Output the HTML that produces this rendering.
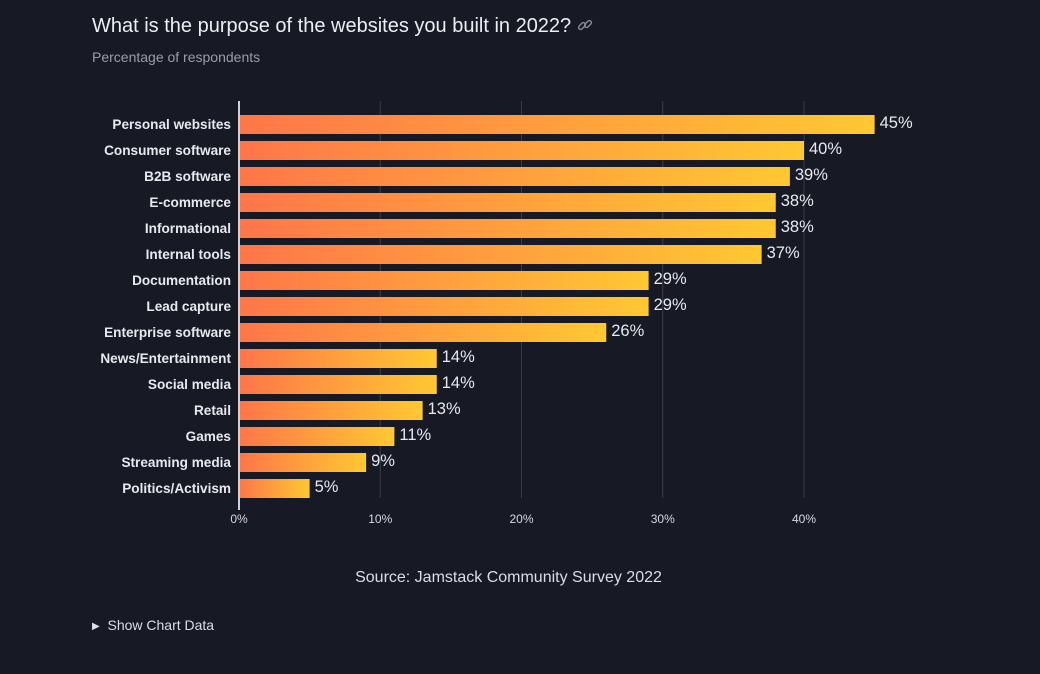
<!DOCTYPE html>
<html><head><meta charset="utf-8"><style>
body{margin:0;background:#171925;width:1040px;height:674px;overflow:hidden;font-family:"Liberation Sans",sans-serif;color:#e8e9ef}
.t{position:absolute;left:92px;top:15px;font-size:20px;color:#eceef3}
.s{position:absolute;left:92px;top:49px;font-size:14px;color:#9a9cab}
.src{position:absolute;left:0;width:1017px;text-align:center;top:569px;font-size:16px;color:#dcdde4}
.sh{position:absolute;left:92px;top:617px;font-size:14px;color:#dcdde4}
.sh span{font-size:10px;vertical-align:1px}
</style></head><body>
<div class="t">What is the purpose of the websites you built in 2022? <svg width="16" height="16" viewBox="0 0 16 16" style="vertical-align:-1px"><g fill="none" stroke="#888a99" stroke-width="1.4"><rect x="1" y="7" width="8" height="4" rx="2" transform="rotate(-45 5 9)"/><rect x="7" y="5" width="8" height="4" rx="2" transform="rotate(-45 11 7)"/></g></svg></div>
<div class="s">Percentage of respondents</div>
<svg id="c" width="1040" height="674" style="position:absolute;left:0;top:0">
<defs><linearGradient id="g" x1="0" x2="1" y1="0" y2="0"><stop offset="0" stop-color="#ff7649"/><stop offset="1" stop-color="#ffc832"/></linearGradient></defs>
</svg>
<div class="src">Source: Jamstack Community Survey 2022</div>
<div class="sh"><span>▶</span>&nbsp; Show Chart Data</div>
<script>
const categories=["Personal websites","Consumer software","B2B software","E-commerce","Informational","Internal tools","Documentation","Lead capture","Enterprise software","News/Entertainment","Social media","Retail","Games","Streaming media","Politics/Activism"];
const values=[45,40,39,38,38,37,29,29,26,14,14,13,11,9,5];
const ticks=[0,10,20,30,40];
const svg=document.getElementById('c');const NS='http://www.w3.org/2000/svg';
const x0=239,pxPer=14.125,y0=115,pitch=26,bh=19;
const X=v=>x0+v*pxPer, Y=i=>y0+i*pitch;
function mk(t,a){const e=document.createElementNS(NS,t);for(const k in a)e.setAttribute(k,a[k]);svg.appendChild(e);return e;}
ticks.forEach(t=>{
 if(t>0){const l=mk('line',{x1:X(t),x2:X(t),y1:101,y2:498,stroke:'#3a3c4a','stroke-width':1});
 
 }
 const tx=mk('text',{x:X(t),y:523,'text-anchor':'middle','font-size':12,fill:'#d8d9e0'});tx.textContent=t+'%';
 
 
});
categories.forEach((c,i)=>{
 const r=mk('rect',{x:x0,y:Y(i),width:X(values[i])-x0,height:bh,fill:'url(#g)'});
 
 
 const lb=mk('text',{x:231,y:Y(i)+14,'text-anchor':'end','font-size':13.6,'font-weight':'bold',fill:'#e8e9ef'});lb.textContent=c;
 
 
 const vl=mk('text',{x:X(values[i])+5,y:Y(i)+13,'font-size':16.5,fill:'#e8e9ef'});vl.textContent=values[i]+'%';
 
 
});
const ax=mk('line',{x1:x0,x2:x0,y1:101,y2:510,stroke:'#d0d1d8','stroke-width':2});


</script>
</body></html>
